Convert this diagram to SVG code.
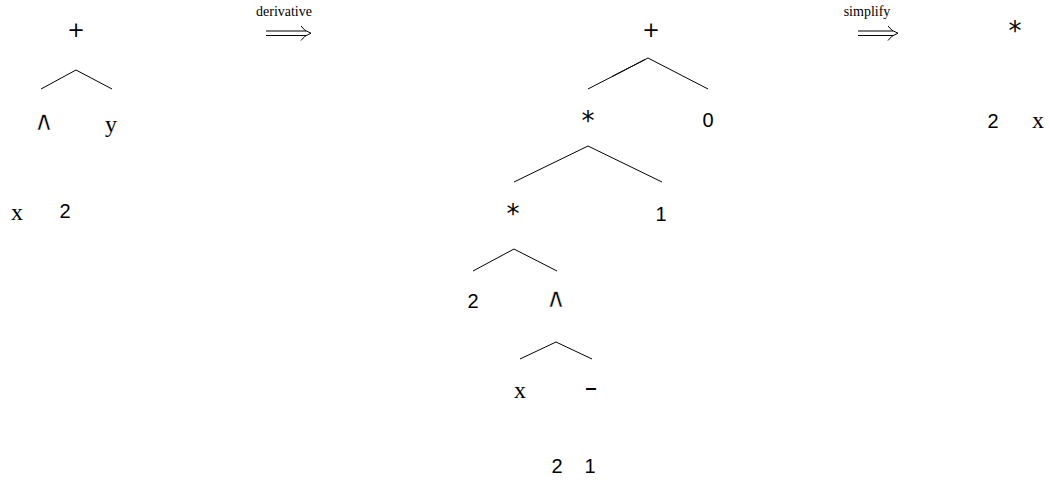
<svg xmlns="http://www.w3.org/2000/svg" width="1049" height="490" viewBox="0 0 1049 490">
<style>
.s{font-family:"Liberation Sans",Arial,sans-serif;font-size:20px;text-anchor:middle;dominant-baseline:central;fill:#000}
.p{font-family:"DejaVu Sans",sans-serif;font-size:21px;text-anchor:middle;dominant-baseline:central;fill:#000}
.a{font-family:"DejaVu Sans",sans-serif;font-size:26px;text-anchor:middle;fill:#000}
.w{font-family:"DejaVu Sans",sans-serif;font-size:27px;text-anchor:middle;dominant-baseline:central;fill:#000;stroke:#fff;stroke-width:0.55}
.d{font-family:"Liberation Sans",Arial,sans-serif;font-size:24px;text-anchor:middle;dominant-baseline:central;fill:#000}
.m{font-family:"Liberation Serif","Times New Roman",serif;font-size:24px;text-anchor:middle;dominant-baseline:central;fill:#000}
.t{font-family:"Liberation Serif","Times New Roman",serif;font-size:14px;text-anchor:middle;fill:#000}
.e{stroke:#000;stroke-width:1;fill:none}
</style>
<rect width="1049" height="490" fill="#fff"/>
<g id="edges">
<polyline class="e" points="41,89 76,70 112,89"/>
<polyline class="e" points="588,89 648,58 708,89"/>
<line class="e" x1="612" y1="76.6" x2="645" y2="59.5" stroke-width="1.7"/>
<polyline class="e" points="514,182 588,146 662,182"/>
<polyline class="e" points="473,271 514,249 557,271"/>
<polyline class="e" points="520,359 556,342 592,359"/>
</g>
<g id="tree1">
<text class="p" x="76" y="30">+</text>
<text class="w" x="44" y="120">∧</text>
<text class="m" x="111" y="124">y</text>
<text class="m" x="17" y="212">x</text>
<text class="s" x="65" y="211">2</text>
</g>
<g id="arrow1">
<text class="t" x="284" y="16">derivative</text>
<g class="e"><line x1="266" y1="31" x2="306" y2="31"/><line x1="266" y1="35.5" x2="306" y2="35.5"/><path d="M301,26 Q304,31 311,33.2 Q304,35.5 301,40.5"/></g>
</g>
<g id="tree2">
<text class="p" x="651" y="30">+</text>
<text class="a" x="588" y="130">*</text>
<text class="s" x="708" y="120">0</text>
<text class="a" x="513" y="223">*</text>
<text class="s" x="661" y="214">1</text>
<text class="s" x="473" y="301">2</text>
<text class="w" x="556" y="297">∧</text>
<text class="m" x="520" y="390">x</text>
<text class="d" transform="translate(591,387) scale(1.7,1)">-</text>
<text class="s" x="557" y="466">2</text>
<text class="s" x="590" y="466">1</text>
</g>
<g id="arrow2">
<text class="t" x="867" y="16">simplify</text>
<g class="e"><line x1="858" y1="31" x2="893" y2="31"/><line x1="858" y1="35.5" x2="893" y2="35.5"/><path d="M888,26 Q891,31 898,33.2 Q891,35.5 888,40.5"/></g>
</g>
<g id="tree3">
<text class="a" x="1015" y="40">*</text>
<text class="s" x="993" y="121">2</text>
<text class="m" x="1038" y="120">x</text>
</g>
</svg>
